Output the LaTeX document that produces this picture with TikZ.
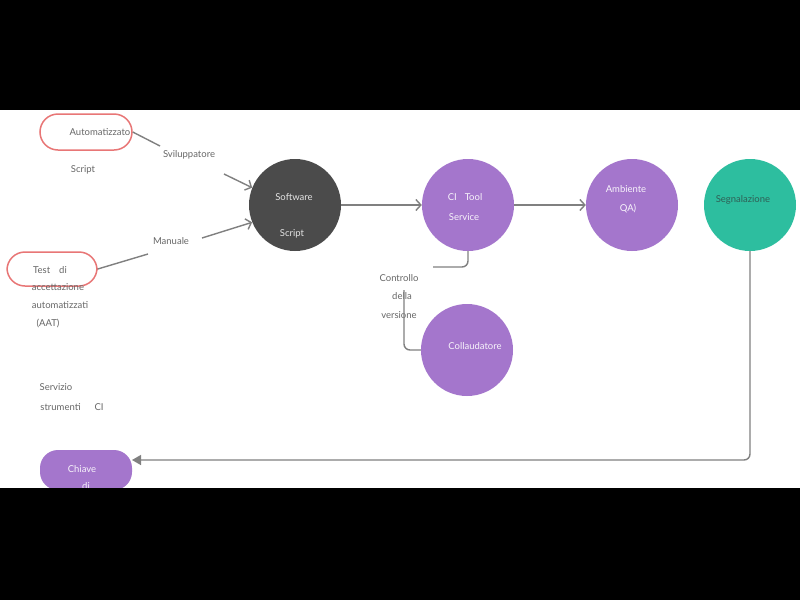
\documentclass[tikz,border=0pt]{standalone}
\usepackage{fontspec}
\setmainfont{Lato}
\usepackage{tikz}
\usetikzlibrary{arrows.meta,positioning}

\definecolor{linegray}{HTML}{808080}
\definecolor{txtgray}{HTML}{676767}
\definecolor{pillred}{HTML}{E87676}
\definecolor{cipurple}{HTML}{A476CC}
\definecolor{darkcirc}{HTML}{4B4B4B}
\definecolor{tealcirc}{HTML}{2DBE9F}
\definecolor{tealtxt}{HTML}{2F5F55}

\tikzset{
  bubble/.style={circle, minimum size=92pt, inner sep=0pt},
  pill/.style={rounded corners=18pt, minimum width=92pt, minimum height=36pt, inner sep=0pt},
  redpill/.style={pill, draw=pillred, line width=1.5pt},
  lbl/.style={font=\fontsize{9.5}{11}\selectfont, text=txtgray, inner sep=1pt},
  inlbl/.style={lbl, text=white!92!cipurple},
  conn/.style={draw=linegray, line width=1.4pt},
  barb/.style={-{Straight Barb[length=5pt,width=11pt]}},
}

\begin{document}
\begin{tikzpicture}[x=1pt, y=-1pt]
  \useasboundingbox (0,0) rectangle (800,600);
  \fill[black] (0,0) rectangle (800,600);
  \fill[white] (0,110) rectangle (800,488);

  % sources
  \node[redpill] (auto) at (86,132) {};
  \node[lbl] (autoT) at (100,132) {Automatizzato};
  \node[lbl] (script) at (83,170) {Script};
  \node[redpill, minimum width=90pt, minimum height=34pt] (aat) at (52,269) {};
  \node[lbl] (aat1) at (50,270) {Test\hspace{9pt}di};
  \node[lbl] (aat2) at (58,287) {accettazione};
  \node[lbl] (aat3) at (60,305) {automatizzati};
  \node[lbl] (aat4) at (48,324) {(AAT)};
  \node[lbl] (svil) at (189,155) {Sviluppatore};
  \node[lbl] (man) at (171,241) {Manuale};
  \node[lbl] (serv1) at (56,387) {Servizio};
  \node[lbl] (serv2) at (72,407) {strumenti\hspace{14pt}CI};

  % circles
  \node[bubble, fill=darkcirc] (soft) at (295,205) {};
  \node[lbl, text=white!85!darkcirc] (softT) at (294,197) {Software};
  \node[lbl, text=white!85!darkcirc] (softS) at (292,234) {Script};
  \node[bubble, fill=cipurple] (ci) at (468,205) {};
  \node[inlbl] (ciT) at (465,197) {CI\hspace{8pt}Tool};
  \node[inlbl] (ciS) at (464,217) {Service};
  \node[bubble, fill=cipurple] (qa) at (632,205) {};
  \node[inlbl] (qaT) at (626,189) {Ambiente};
  \node[inlbl] (qaS) at (628,209) {QA)};
  \node[bubble, fill=tealcirc] (segn) at (750,205) {};
  \node[lbl, text=tealtxt] (segnT) at (743,200) {Segnalazione};
  \node[bubble, fill=cipurple] (coll) at (467,350) {};
  \node[inlbl] (collT) at (475,346) {Collaudatore};
  \node[pill, fill=cipurple, minimum height=40pt] (chiave) at (86,470) {};
  \node[inlbl] (chiaveT) at (82,469) {Chiave};
  \node[inlbl] (chiaveD) at (86,486) {di};

  % version control labels
  \node[lbl] (ctrl1) at (399,278) {Controllo};
  \node[lbl] (ctrl2) at (402,296) {della};
  \node[lbl] (ctrl3) at (399,315) {versione};

  \coordinate (s1) at (160,146);
  \coordinate (s2) at (224,174);
  \coordinate (m1) at (148,254);
  \coordinate (m2) at (202,238);
  \coordinate (v1) at (433,267);
  \coordinate (v2) at (404,290);
  \coordinate (k1) at (132,460);

  % connectors
  \draw[conn] (auto.east) -- (s1);
  \draw[conn, barb] (s2) -- (soft.158);
  \draw[conn] (aat.east) -- (m1);
  \draw[conn, barb] (m2) -- (soft.202);
  \draw[conn, barb] (soft) -- (ci);
  \draw[conn, barb] (ci) -- (qa);
  \draw[conn, rounded corners=6pt] (ci.south) |- (v1);
  \draw[conn, rounded corners=6pt] (v2) |- (coll.west);
  \draw[conn, rounded corners=6pt, -{Triangle[length=9pt,width=10pt]}] (segn.south) |- (k1);

  \fill[black] (0,488) rectangle (800,600);
\end{tikzpicture}
\end{document}
